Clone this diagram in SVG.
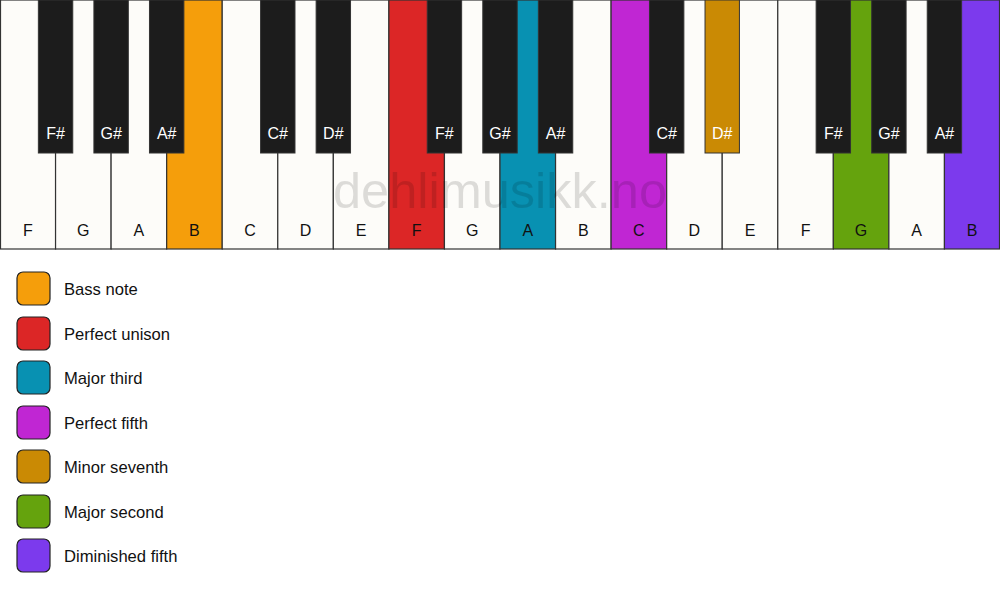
<svg xmlns="http://www.w3.org/2000/svg" width="1000" height="594" viewBox="0 0 1000 594">
<style>
.w{fill:#fdfcf9;stroke:#333;stroke-width:1.2}
.b{fill:#1c1c1c;stroke:#333;stroke-width:1}
.lw{font-family:"Liberation Sans",Arial,sans-serif;font-size:16px;fill:#111;text-anchor:middle}
.lb{font-family:"Liberation Sans",Arial,sans-serif;font-size:16px;fill:#fff;text-anchor:middle}
.sw{stroke:#222;stroke-width:1.2}
.lt{font-family:"Liberation Sans",Arial,sans-serif;font-size:16.6px;fill:#111}
</style>
<rect width="1000" height="594" fill="#fff"/>
<g id="keyboard">
<g id="white-keys">
<rect class="w" x="0.5" y="0" width="55.06" height="249"/>
<rect class="w" x="55.56" y="0" width="55.56" height="249"/>
<rect class="w" x="111.11" y="0" width="55.56" height="249"/>
<rect class="w" x="166.67" y="0" width="55.56" height="249" style="fill:#f59e0b"/>
<rect class="w" x="222.22" y="0" width="55.56" height="249"/>
<rect class="w" x="277.78" y="0" width="55.56" height="249"/>
<rect class="w" x="333.33" y="0" width="55.56" height="249"/>
<rect class="w" x="388.89" y="0" width="55.56" height="249" style="fill:#dc2626"/>
<rect class="w" x="444.44" y="0" width="55.56" height="249"/>
<rect class="w" x="500" y="0" width="55.56" height="249" style="fill:#0891b2"/>
<rect class="w" x="555.56" y="0" width="55.56" height="249"/>
<rect class="w" x="611.11" y="0" width="55.56" height="249" style="fill:#c026d3"/>
<rect class="w" x="666.67" y="0" width="55.56" height="249"/>
<rect class="w" x="722.22" y="0" width="55.56" height="249"/>
<rect class="w" x="777.78" y="0" width="55.56" height="249"/>
<rect class="w" x="833.33" y="0" width="55.56" height="249" style="fill:#65a30d"/>
<rect class="w" x="888.89" y="0" width="55.56" height="249"/>
<rect class="w" x="944.44" y="0" width="55.06" height="249" style="fill:#7c3aed"/>
</g>
<g id="white-labels">
<text class="lw" x="27.8" y="236">F</text>
<text class="lw" x="83.3" y="236">G</text>
<text class="lw" x="138.9" y="236">A</text>
<text class="lw" x="194.4" y="236">B</text>
<text class="lw" x="250" y="236">C</text>
<text class="lw" x="305.6" y="236">D</text>
<text class="lw" x="361.1" y="236">E</text>
<text class="lw" x="416.7" y="236">F</text>
<text class="lw" x="472.2" y="236">G</text>
<text class="lw" x="527.8" y="236">A</text>
<text class="lw" x="583.3" y="236">B</text>
<text class="lw" x="638.9" y="236">C</text>
<text class="lw" x="694.4" y="236">D</text>
<text class="lw" x="750" y="236">E</text>
<text class="lw" x="805.6" y="236">F</text>
<text class="lw" x="861.1" y="236">G</text>
<text class="lw" x="916.7" y="236">A</text>
<text class="lw" x="972.2" y="236">B</text>
</g>
<g id="black-keys">
<rect class="b" x="38.36" y="0" width="34.4" height="153"/>
<rect class="b" x="93.91" y="0" width="34.4" height="153"/>
<rect class="b" x="149.47" y="0" width="34.4" height="153"/>
<rect class="b" x="260.58" y="0" width="34.4" height="153"/>
<rect class="b" x="316.13" y="0" width="34.4" height="153"/>
<rect class="b" x="427.24" y="0" width="34.4" height="153"/>
<rect class="b" x="482.8" y="0" width="34.4" height="153"/>
<rect class="b" x="538.36" y="0" width="34.4" height="153"/>
<rect class="b" x="649.47" y="0" width="34.4" height="153"/>
<rect class="b" x="705.02" y="0" width="34.4" height="153" style="fill:#ca8a04"/>
<rect class="b" x="816.13" y="0" width="34.4" height="153"/>
<rect class="b" x="871.69" y="0" width="34.4" height="153"/>
<rect class="b" x="927.24" y="0" width="34.4" height="153"/>
</g>
<g id="black-labels">
<text class="lb" x="55.56" y="139">F#</text>
<text class="lb" x="111.11" y="139">G#</text>
<text class="lb" x="166.67" y="139">A#</text>
<text class="lb" x="277.78" y="139">C#</text>
<text class="lb" x="333.33" y="139">D#</text>
<text class="lb" x="444.44" y="139">F#</text>
<text class="lb" x="500" y="139">G#</text>
<text class="lb" x="555.56" y="139">A#</text>
<text class="lb" x="666.67" y="139">C#</text>
<text class="lb" x="722.22" y="139">D#</text>
<text class="lb" x="833.33" y="139">F#</text>
<text class="lb" x="888.89" y="139">G#</text>
<text class="lb" x="944.44" y="139">A#</text>
</g>
</g>
<text id="watermark" x="500" y="208" font-family="'Liberation Sans',Arial,sans-serif" font-size="50.5" text-anchor="middle" fill="#000" fill-opacity="0.13">dehlimusikk.no</text>
<g id="legend">
<g id="legend-bass"><rect class="sw" x="17" y="272" width="33" height="33" rx="6" fill="#f59e0b"/><text class="lt" x="64" y="295">Bass note</text></g>
<g id="legend-unison"><rect class="sw" x="17" y="317" width="33" height="33" rx="6" fill="#dc2626"/><text class="lt" x="64" y="340">Perfect unison</text></g>
<g id="legend-third"><rect class="sw" x="17" y="361" width="33" height="33" rx="6" fill="#0891b2"/><text class="lt" x="64" y="384">Major third</text></g>
<g id="legend-fifth"><rect class="sw" x="17" y="406" width="33" height="33" rx="6" fill="#c026d3"/><text class="lt" x="64" y="429">Perfect fifth</text></g>
<g id="legend-seventh"><rect class="sw" x="17" y="450" width="33" height="33" rx="6" fill="#ca8a04"/><text class="lt" x="64" y="473">Minor seventh</text></g>
<g id="legend-second"><rect class="sw" x="17" y="495" width="33" height="33" rx="6" fill="#65a30d"/><text class="lt" x="64" y="518">Major second</text></g>
<g id="legend-dim"><rect class="sw" x="17" y="539" width="33" height="33" rx="6" fill="#7c3aed"/><text class="lt" x="64" y="562">Diminished fifth</text></g>
</g>
</svg>
